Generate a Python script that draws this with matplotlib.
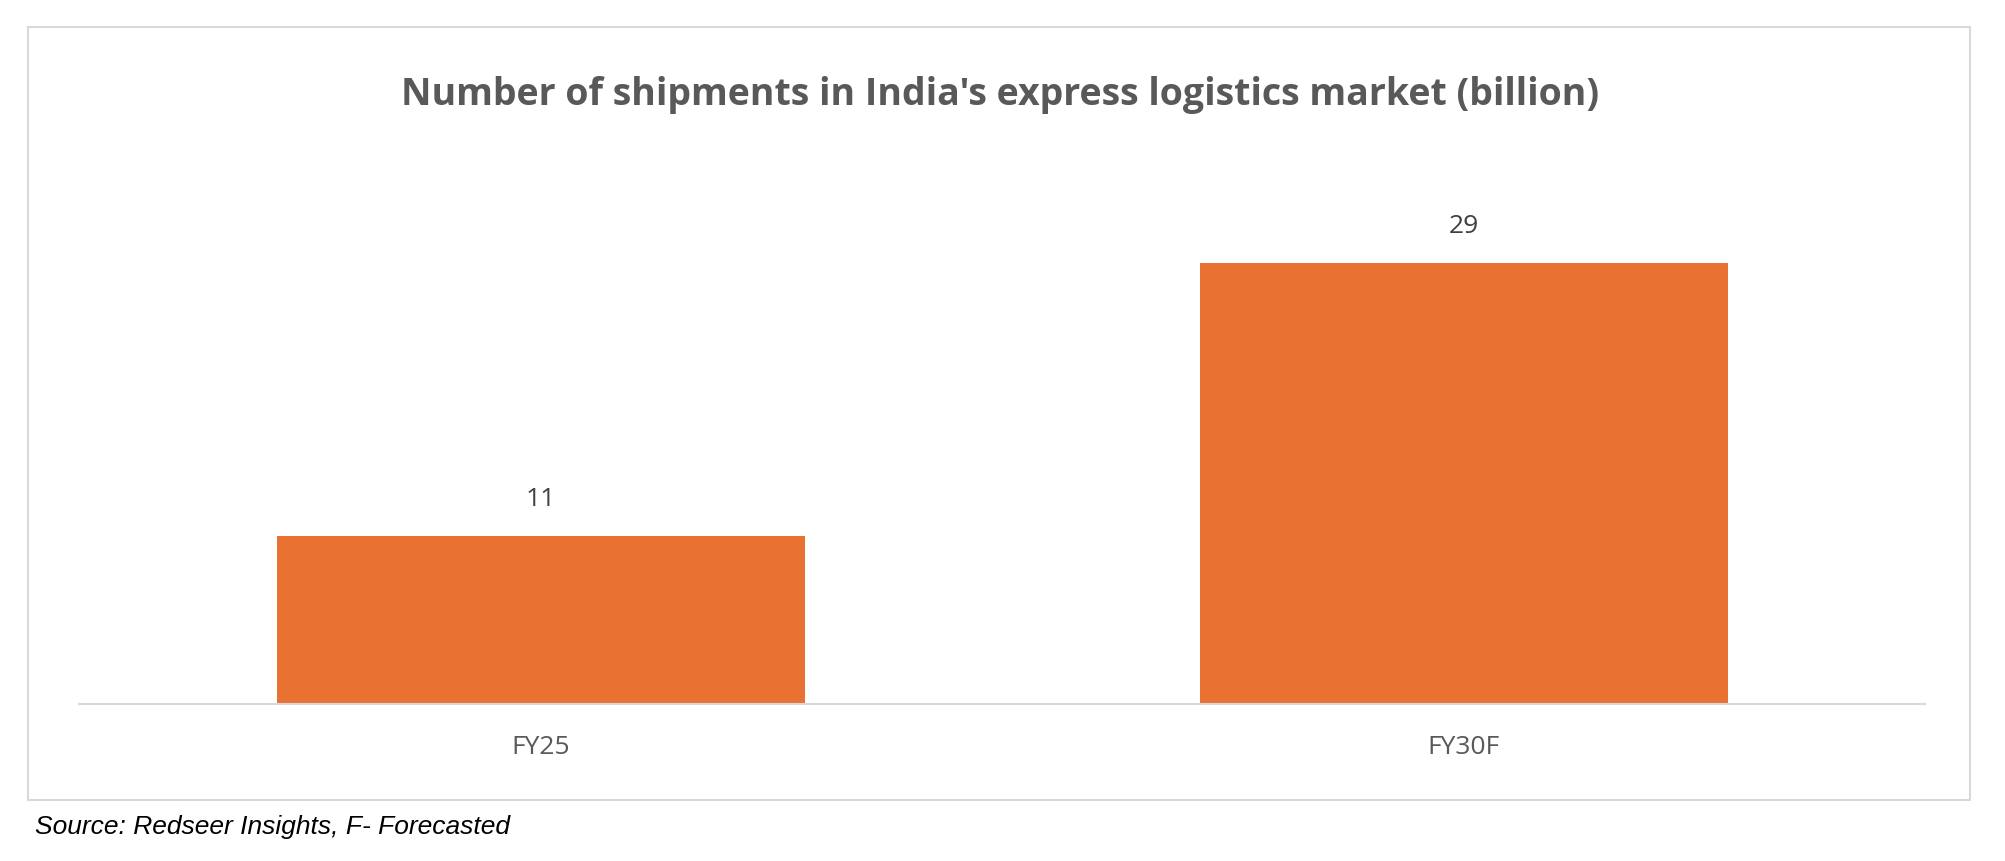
import matplotlib
matplotlib.use("Agg")
import matplotlib.pyplot as plt
from matplotlib.patches import Rectangle

categories = ["FY25", "FY30F"]
values = [11, 29]
title = "Number of shipments in India's express logistics market (billion)"
source = "Source: Redseer Insights, F- Forecasted"

fig = plt.figure(figsize=(20.06, 8.62), dpi=100)
fig.patches.append(Rectangle((22/1568, 1-632/680), (1540-22)/1568, (632-22)/680,
                             transform=fig.transFigure, fill=False, edgecolor="#d9d9d9", lw=1.5))
ax = fig.add_axes([62/1568, 1-556/680, (1505-62)/1568, 0.6176])
x = range(len(categories))
bars = ax.bar(x, values, width=0.572, color="#E97132")
ax.set_xlim(-0.5, 1.5)
ax.set_ylim(0, 35)
for b, v in zip(bars, values):
    ax.annotate(str(v), (b.get_x()+b.get_width()/2, v), xytext=(0, 18), textcoords="offset points",
                ha="center", va="bottom", fontsize=19, color="#404040", family="Open Sans")
ax.set_xticks(list(x))
ax.set_xticklabels(categories, fontsize=19, color="#595959", family="Open Sans")
ax.tick_params(axis="x", length=0, pad=22)
ax.set_yticks([])
for s in ["top", "left", "right"]:
    ax.spines[s].set_visible(False)
ax.spines["bottom"].set_color("#d9d9d9")
ax.spines["bottom"].set_linewidth(1.5)
fig.text(782/1568, 1-75/680, title, ha="center", va="center", fontsize=27, fontweight="bold",
         color="#595959", family="Open Sans")
fig.text(27/1568, 1-652/680, source, ha="left", va="center", fontsize=19, style="italic",
         color="black", family="Liberation Sans")
fig.savefig("out.png", dpi=100, facecolor="white")
